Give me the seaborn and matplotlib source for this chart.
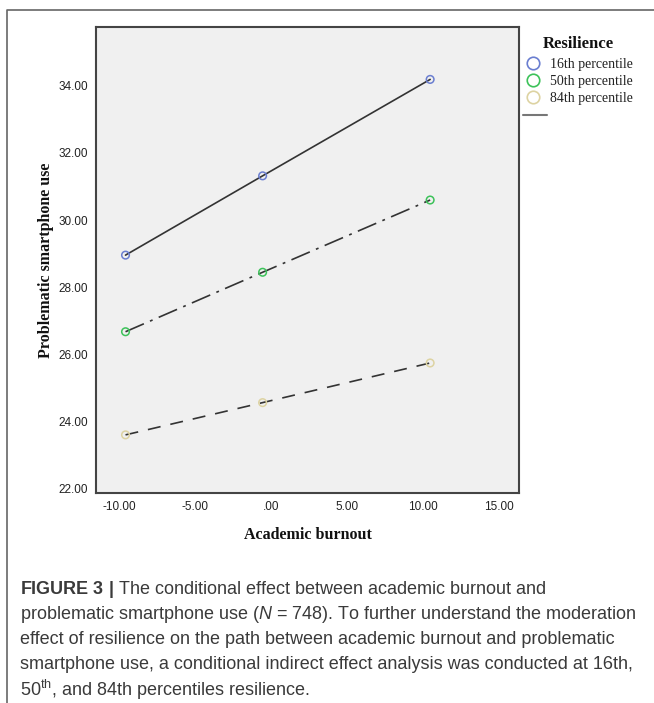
import matplotlib
matplotlib.use('Agg')
import matplotlib.pyplot as plt
from matplotlib.lines import Line2D
import pandas as pd
import seaborn as sns

# dane
wypalenie = [-9.56, -0.55, 10.46]
grupy = ['16th percentile', '50th percentile', '84th percentile']
psu_16 = [28.96, 31.32, 34.19]
psu_50 = [26.68, 28.45, 30.60]
psu_84 = [23.61, 24.57, 25.75]
kolory = ['#6a7ed0', '#3dc25a', '#ddd3a2']
y_ticki = [22, 24, 26, 28, 30, 32, 34]
x_ticki = [-10, -5, 0, 5, 10, 15]

df = pd.DataFrame({
    'wypalenie': wypalenie * 3,
    'psu': psu_16 + psu_50 + psu_84,
    'grupa': [g for g in grupy for _ in wypalenie],
})

sns.set_style('white')
plt.rcParams['font.family'] = ['Liberation Sans', 'DejaVu Sans']
plt.rcParams['mathtext.fontset'] = 'custom'
plt.rcParams['mathtext.rm'] = 'Liberation Sans'
plt.rcParams['mathtext.it'] = 'Liberation Sans:italic'
plt.rcParams['mathtext.bf'] = 'Liberation Sans:bold'

W, H = 654, 703
fig = plt.figure(figsize=(W / 100, H / 100), dpi=100)
ax = fig.add_axes([96 / W, 1 - 493 / H, (519 - 96) / W, (493 - 27) / H])
ax.set_facecolor('#f0f0f0')

style_linii = {grupy[0]: '', grupy[1]: (12, 4, 1.7, 4), grupy[2]: (7.8, 6)}
sns.lineplot(data=df, x='wypalenie', y='psu', style='grupa', dashes=style_linii,
             color='#333333', linewidth=1.2, legend=False, sort=False,
             estimator=None, ax=ax)
sns.scatterplot(data=df, x='wypalenie', y='psu', hue='grupa', palette=kolory,
                s=30, linewidth=1.1, legend=False, zorder=3, ax=ax)
punkty = ax.collections[-1]
fc = punkty.get_facecolors()
punkty.set_edgecolors(fc)
punkty.set_facecolors('none')

ax.set_xlim(-11.5, 16.3)
ax.set_ylim(21.88, 35.75)
ax.set_xticks(x_ticki)
ax.set_yticks(y_ticki)


def fmt(v):
    s = f'{v:.2f}'
    return '.00' if v == 0 else s


ax.set_xticklabels([fmt(v) for v in x_ticki])
ax.set_yticklabels([fmt(v) for v in y_ticki])
ax.tick_params(direction='out', length=4.5, width=1.5, color='#444444',
               labelsize=8.5, labelcolor='#222222', pad=1.5)
for sp in ax.spines.values():
    sp.set_color('#444444')
    sp.set_linewidth(1.5)

ax.set_xlabel('Academic burnout', family='Liberation Serif', weight='bold',
              fontsize=11.5, color='#111111', labelpad=10)
ax.set_ylabel('Problematic smartphone use', family='Liberation Serif',
              weight='bold', fontsize=11.5, color='#111111', labelpad=3)

# legenda
fig.text(578 / W, 1 - 44 / H, 'Resilience', family='Liberation Serif',
         weight='bold', fontsize=12, color='#111111', ha='center', va='center')
uchwyty = [Line2D([], [], marker='o', linestyle='none', markersize=9,
                  markerfacecolor='none', markeredgecolor=k,
                  markeredgewidth=1.2) for k in kolory]
leg = fig.legend(uchwyty, grupy, loc='upper left',
                 bbox_to_anchor=(527 / W, 1 - 58 / H), frameon=False,
                 handlelength=0.8, handletextpad=0.85, labelspacing=0.3,
                 borderpad=0, borderaxespad=0,
                 prop={'family': 'Liberation Serif', 'size': 10})
for t in leg.get_texts():
    t.set_color('#222222')
fig.add_artist(Line2D([523 / W, 547 / W], [1 - 115 / H] * 2,
                      color='#777777', lw=1.5))

# ramka
fig.add_artist(Line2D([7 / W, 7 / W, 1], [0, 1 - 10 / H, 1 - 10 / H],
                      color='#666666', lw=1.2))

podpis = [
    r'$\mathbf{FIGURE\ 3\ |}$ The conditional effect between academic burnout and',
    r'problematic smartphone use ($\it{N}$ = 748). To further understand the moderation',
    'effect of resilience on the path between academic burnout and problematic',
    'smartphone use, a conditional indirect effect analysis was conducted at 16th,',
    r'50$^{\rm th}$, and 84th percentiles resilience.',
]
for i, linia in enumerate(podpis):
    fig.text(20 / W, 1 - (589 + 25.3 * i) / H, linia, fontsize=13,
             color='#3a3a3a', va='center', ha='left')

fig.savefig('out.png', dpi=100)
